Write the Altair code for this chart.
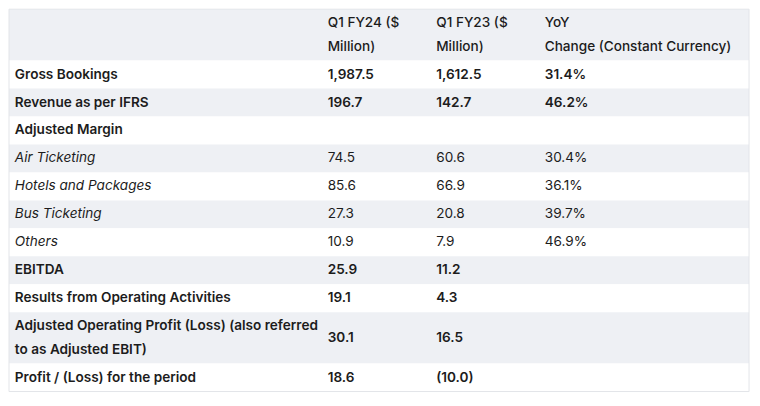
import altair as alt
import pandas as pd

# ---- table content ----
headers = ["", "Q1 FY24 ($\nMillion)", "Q1 FY23 ($\nMillion)", "YoY\nChange (Constant Currency)"]
labels = [
    "Gross Bookings",
    "Revenue as per IFRS",
    "Adjusted Margin",
    "Air Ticketing",
    "Hotels and Packages",
    "Bus Ticketing",
    "Others",
    "EBITDA",
    "Results from Operating Activities",
    "Adjusted Operating Profit (Loss) (also referred\nto as Adjusted EBIT)",
    "Profit / (Loss) for the period",
]
fy24 = ["1,987.5", "196.7", "", "74.5", "85.6", "27.3", "10.9", "25.9", "19.1", "30.1", "18.6"]
fy23 = ["1,612.5", "142.7", "", "60.6", "66.9", "20.8", "7.9", "11.2", "4.3", "16.5", "(10.0)"]
yoy = ["31.4%", "46.2%", "", "30.4%", "36.1%", "39.7%", "46.9%", "", "", "", ""]

# sub-item rows (italic label, regular values)
sub_rows = {"Air Ticketing", "Hotels and Packages", "Bus Ticketing", "Others"}

# ---- layout (reference pixel units) ----
col_x = [6, 326, 437, 548]
TOP = 1
PAD = 4.8
LINE = 24.5
TABLE_RIGHT = 757
GREY = "#eef0f4"
TEXT = "#1c1c1c"
FONT = "Inter"
FS = 13.6

rows = [headers] + [[l, a, b, c] for l, a, b, c in zip(labels, fy24, fy23, yoy)]

bg = []
txt = []
y = TOP
for i, r in enumerate(rows):
    nlines = max(s.count("\n") + 1 for s in r)
    h = PAD + LINE * nlines
    y0, y1 = y, y + h
    bg.append({"x0": 0, "x1": TABLE_RIGHT, "y0": y0, "y1": y1,
               "fill": GREY if i % 2 == 0 else "#ffffff"})
    yc = (y0 + y1) / 2
    for j, s in enumerate(r):
        if not s:
            continue
        if i == 0:
            kind = "header"
        elif r[0] in sub_rows:
            kind = "italic" if j == 0 else "normal"
        else:
            kind = "bold"
        parts = s.split("\n")
        n = len(parts)
        for k, p in enumerate(parts):
            txt.append({"x": col_x[j], "y": yc + (k - (n - 1) / 2) * LINE,
                        "text": p, "kind": kind})
    y = y1

bg_df = pd.DataFrame(bg)
txt_df = pd.DataFrame(txt)
frame_df = pd.DataFrame([{"x0": 0, "x1": TABLE_RIGHT, "y0": TOP, "y1": y}])

xs = alt.Scale(domain=[0, 760], range=[0, 744])
ys = alt.Scale(domain=[0, 406], range=[0, 388])

rects = alt.Chart(bg_df).mark_rect(strokeWidth=0).encode(
    x=alt.X("x0:Q", scale=xs, axis=None),
    x2="x1:Q",
    y=alt.Y("y0:Q", scale=ys, axis=None),
    y2="y1:Q",
    fill=alt.Fill("fill:N", scale=None),
)

frame = alt.Chart(frame_df).mark_rect(fill=None, stroke="#e3e5e9", strokeWidth=1).encode(
    x=alt.X("x0:Q", scale=xs, axis=None),
    x2="x1:Q",
    y=alt.Y("y0:Q", scale=ys, axis=None),
    y2="y1:Q",
)

def text_layer(kind, weight, style="normal"):
    return alt.Chart(txt_df).transform_filter(
        alt.datum.kind == kind
    ).mark_text(
        align="left", baseline="middle", font=FONT, fontSize=FS,
        fontWeight=weight, fontStyle=style, color=TEXT,
    ).encode(
        x=alt.X("x:Q", scale=xs, axis=None),
        y=alt.Y("y:Q", scale=ys, axis=None),
        text="text:N",
    )

chart = alt.layer(
    rects,
    frame,
    text_layer("header", 500),
    text_layer("bold", 600),
    text_layer("normal", 400),
    text_layer("italic", 400, "italic"),
).properties(
    width=744, height=388, padding=0, background="white"
).configure_view(stroke=None)

chart.save("out.html", embed_options={"renderer": "svg", "actions": False})
